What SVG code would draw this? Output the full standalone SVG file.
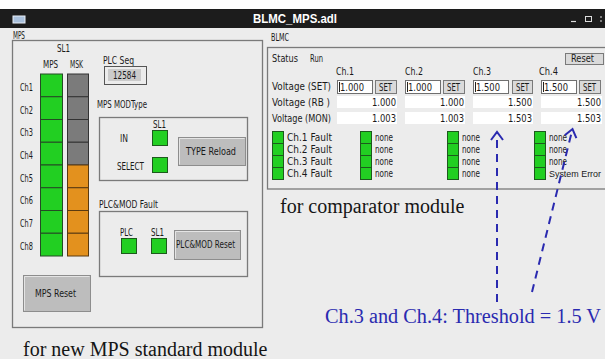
<svg xmlns="http://www.w3.org/2000/svg" width="605" height="359" viewBox="0 0 605 359">
<defs>
<style>
.t{font-family:"DejaVu Sans","Liberation Sans",sans-serif;font-size:10px;fill:#1a1a1a}
.cap{font-family:"Liberation Serif","Times New Roman",serif;font-size:20px;fill:#151515}
.frame{fill:none;stroke:#7a7a7a;stroke-width:1.3}
.led{fill:#22cf22;stroke:#1d5a1d;stroke-width:1}
.mps{fill:#22cf22;stroke:#254a25;stroke-width:1}
.msk{fill:#7b7b7b;stroke:#333;stroke-width:1}
.mso{fill:#e3911e;stroke:#5a3a10;stroke-width:1}
.btn{fill:#bdbdbd;stroke:#8d8d8d;stroke-width:1}
.btnhi{fill:none;stroke:#e4e4e4;stroke-width:1}
.inp{fill:#fff;stroke:#6f6f6f;stroke-width:1}
.fld{fill:#fff}
.sbtn{fill:#dadada;stroke:#7a7a7a;stroke-width:1}
.arr{fill:none;stroke:#2a2ab0;stroke-width:2;stroke-dasharray:8 6}
</style>
<marker id="ah" viewBox="-10 -8 12 16" refX="0" refY="0" markerWidth="12" markerHeight="16" markerUnits="userSpaceOnUse" orient="auto">
<path d="M-8,-6 L0,0 L-8,6" fill="none" stroke="#2a2ab0" stroke-width="2"/>
</marker>
</defs>
<rect x="0" y="0" width="605" height="359" fill="#ececec"/>
<rect x="0" y="0" width="605" height="9" fill="#ffffff"/>
<g id="titlebar">
<rect x="0" y="9" width="605" height="19" fill="#1c1c1c"/>
<rect x="13" y="16" width="12" height="7" fill="#a9c0dc" stroke="#e8eef6" stroke-width="1"/>
<text x="253" y="23" font-family="Liberation Sans, Arial, sans-serif" font-size="12" font-weight="bold" fill="#ffffff" textLength="84" lengthAdjust="spacingAndGlyphs">BLMC_MPS.adl</text>
<line x1="571" y1="21.5" x2="576" y2="21.5" stroke="#ddd" stroke-width="1.2"/>
<rect x="585.5" y="16.5" width="6" height="5" fill="none" stroke="#ddd" stroke-width="1"/>
<line x1="601" y1="16" x2="601" y2="22" stroke="#ddd" stroke-width="1" stroke-dasharray="2 2"/>
</g>
<g id="mps-panel">
<text class="t" x="13" y="38.5" textLength="12" lengthAdjust="spacingAndGlyphs">MPS</text>
<rect class="frame" x="12.5" y="40.5" width="250" height="287"/>
<text class="t" x="57" y="51.5" textLength="13" lengthAdjust="spacingAndGlyphs">SL1</text>
<text class="t" x="43" y="68" textLength="15" lengthAdjust="spacingAndGlyphs">MPS</text>
<text class="t" x="70" y="68" textLength="13" lengthAdjust="spacingAndGlyphs">MSK</text>
</g>
<g id="mps-column">
<rect class="mps" x="40.5" y="74" width="22" height="22.75"/>
<rect class="mps" x="40.5" y="96.75" width="22" height="22.75"/>
<rect class="mps" x="40.5" y="119.5" width="22" height="22.75"/>
<rect class="mps" x="40.5" y="142.25" width="22" height="22.75"/>
<rect class="mps" x="40.5" y="165" width="22" height="22.75"/>
<rect class="mps" x="40.5" y="187.75" width="22" height="22.75"/>
<rect class="mps" x="40.5" y="210.5" width="22" height="22.75"/>
<rect class="mps" x="40.5" y="233.25" width="22" height="22.75"/>
</g>
<g id="msk-column">
<rect class="msk" x="67.5" y="74" width="21" height="22.75"/>
<rect class="msk" x="67.5" y="96.75" width="21" height="22.75"/>
<rect class="msk" x="67.5" y="119.5" width="21" height="22.75"/>
<rect class="msk" x="67.5" y="142.25" width="21" height="22.75"/>
<rect class="mso" x="67.5" y="165" width="21" height="22.75"/>
<rect class="mso" x="67.5" y="187.75" width="21" height="22.75"/>
<rect class="mso" x="67.5" y="210.5" width="21" height="22.75"/>
<rect class="mso" x="67.5" y="233.25" width="21" height="22.75"/>
</g>
<g id="ch-labels">
<text class="t" x="20" y="90.5" textLength="13" lengthAdjust="spacingAndGlyphs">Ch1</text>
<text class="t" x="20" y="113.5" textLength="13" lengthAdjust="spacingAndGlyphs">Ch2</text>
<text class="t" x="20" y="135.5" textLength="13" lengthAdjust="spacingAndGlyphs">Ch3</text>
<text class="t" x="20" y="158.5" textLength="13" lengthAdjust="spacingAndGlyphs">Ch4</text>
<text class="t" x="20" y="181.5" textLength="13" lengthAdjust="spacingAndGlyphs">Ch5</text>
<text class="t" x="20" y="203.5" textLength="13" lengthAdjust="spacingAndGlyphs">Ch6</text>
<text class="t" x="20" y="226.5" textLength="13" lengthAdjust="spacingAndGlyphs">Ch7</text>
<text class="t" x="20" y="249.5" textLength="13" lengthAdjust="spacingAndGlyphs">Ch8</text>
</g>
<g id="plc-seq">
<text class="t" x="103" y="63.5" textLength="31" lengthAdjust="spacingAndGlyphs">PLC Seq</text>
<rect x="104.5" y="66.5" width="42" height="18" fill="#ececec" stroke="#555" stroke-width="1"/>
<rect x="108" y="69" width="33" height="12" fill="#cbcbcb"/>
<text class="t" x="113" y="79" textLength="23" lengthAdjust="spacingAndGlyphs">12584</text>
</g>
<g id="modtype">
<text class="t" x="97" y="107.5" textLength="50" lengthAdjust="spacingAndGlyphs">MPS MODType</text>
<rect class="frame" x="99.5" y="117.5" width="148" height="63"/>
<text class="t" x="153" y="127.5" textLength="13" lengthAdjust="spacingAndGlyphs">SL1</text>
<text class="t" x="120" y="141.5" textLength="8" lengthAdjust="spacingAndGlyphs">IN</text>
<rect class="led" x="152.5" y="130.5" width="15" height="15"/>
<text class="t" x="117" y="169.5" textLength="27" lengthAdjust="spacingAndGlyphs">SELECT</text>
<rect class="led" x="152.5" y="157.5" width="15" height="15"/>
</g>
<g id="type-reload">
<rect class="btn" x="178.5" y="137.5" width="67" height="28"/>
<path class="btnhi" d="M179.5,164.5 V138.5 H244.5"/>
<text class="t" x="186" y="154.5" textLength="50" lengthAdjust="spacingAndGlyphs">TYPE Reload</text>
</g>
<g id="plcmod-fault">
<text class="t" x="99" y="207.5" textLength="59" lengthAdjust="spacingAndGlyphs">PLC&amp;MOD Fault</text>
<rect class="frame" x="99.5" y="211.5" width="148" height="65"/>
<text class="t" x="120" y="235.5" textLength="13" lengthAdjust="spacingAndGlyphs">PLC</text>
<text class="t" x="151" y="235.5" textLength="13" lengthAdjust="spacingAndGlyphs">SL1</text>
<rect class="led" x="121.5" y="238.5" width="15" height="15"/>
<rect class="led" x="151.5" y="238.5" width="15" height="15"/>
</g>
<g id="plcmod-reset">
<rect class="btn" x="174.5" y="230.5" width="66" height="29"/>
<path class="btnhi" d="M175.5,258.5 V231.5 H239.5"/>
<text class="t" x="176" y="247.5" textLength="59" lengthAdjust="spacingAndGlyphs">PLC&amp;MOD Reset</text>
</g>
<g id="mps-reset">
<rect class="btn" x="23.5" y="275.5" width="67" height="36"/>
<path class="btnhi" d="M24.5,310.5 V276.5 H89.5"/>
<text class="t" x="35" y="296.5" textLength="41" lengthAdjust="spacingAndGlyphs">MPS Reset</text>
</g>
<g id="blmc-panel">
<text class="t" x="271" y="40.5" textLength="18" lengthAdjust="spacingAndGlyphs">BLMC</text>
<rect class="frame" x="267.5" y="47.5" width="345" height="141.5"/>
<text class="t" x="272" y="61.5" textLength="26" lengthAdjust="spacingAndGlyphs">Status</text>
<text class="t" x="310" y="61.5" textLength="13" lengthAdjust="spacingAndGlyphs">Run</text>
<rect class="sbtn" x="565.5" y="53.5" width="38" height="11"/>
<text class="t" x="571" y="62" textLength="23" lengthAdjust="spacingAndGlyphs">Reset</text>
<text class="t" x="336" y="74.5" textLength="18" lengthAdjust="spacingAndGlyphs">Ch.1</text>
<text class="t" x="405" y="74.5" textLength="18" lengthAdjust="spacingAndGlyphs">Ch.2</text>
<text class="t" x="473" y="74.5" textLength="18" lengthAdjust="spacingAndGlyphs">Ch.3</text>
<text class="t" x="539" y="74.5" textLength="19" lengthAdjust="spacingAndGlyphs">Ch.4</text>
<text class="t" x="272" y="89.5" textLength="59" lengthAdjust="spacingAndGlyphs">Voltage (SET)</text>
<text class="t" x="272" y="105.5" textLength="58" lengthAdjust="spacingAndGlyphs" xml:space="preserve">Voltage (RB )</text>
<text class="t" x="272" y="121.5" textLength="59" lengthAdjust="spacingAndGlyphs">Voltage (MON)</text>
</g>
<g id="voltage-set">
<rect class="inp" x="337.5" y="80.5" width="35" height="13"/>
<rect class="inp" x="405.5" y="80.5" width="35" height="13"/>
<rect class="inp" x="473.5" y="80.5" width="35" height="13"/>
<rect class="inp" x="541.5" y="80.5" width="35" height="13"/>
<line x1="339.5" y1="82" x2="339.5" y2="92" stroke="#222" stroke-width="1"/>
<line x1="407.5" y1="82" x2="407.5" y2="92" stroke="#222" stroke-width="1"/>
<line x1="475.5" y1="82" x2="475.5" y2="92" stroke="#222" stroke-width="1"/>
<line x1="543.5" y1="82" x2="543.5" y2="92" stroke="#222" stroke-width="1"/>
<text class="t" x="340" y="90.5" textLength="24" lengthAdjust="spacingAndGlyphs">1.000</text>
<text class="t" x="408" y="90.5" textLength="24" lengthAdjust="spacingAndGlyphs">1.000</text>
<text class="t" x="476" y="90.5" textLength="24" lengthAdjust="spacingAndGlyphs">1.500</text>
<text class="t" x="544" y="90.5" textLength="24" lengthAdjust="spacingAndGlyphs">1.500</text>
<rect class="sbtn" x="375.5" y="80.5" width="21" height="13"/>
<rect class="sbtn" x="443.5" y="80.5" width="21" height="13"/>
<rect class="sbtn" x="512.5" y="80.5" width="20" height="13"/>
<rect class="sbtn" x="579.5" y="80.5" width="21" height="13"/>
<text class="t" x="379" y="90.5" textLength="13" lengthAdjust="spacingAndGlyphs">SET</text>
<text class="t" x="447" y="90.5" textLength="13" lengthAdjust="spacingAndGlyphs">SET</text>
<text class="t" x="516" y="90.5" textLength="13" lengthAdjust="spacingAndGlyphs">SET</text>
<text class="t" x="583" y="90.5" textLength="13" lengthAdjust="spacingAndGlyphs">SET</text>
</g>
<g id="voltage-rb">
<rect class="fld" x="337" y="96" width="60" height="12"/>
<rect class="fld" x="405" y="96" width="60" height="12"/>
<rect class="fld" x="473" y="96" width="60" height="12"/>
<rect class="fld" x="541" y="96" width="61" height="12"/>
<text class="t" x="396" y="105.5" text-anchor="end" textLength="24" lengthAdjust="spacingAndGlyphs">1.000</text>
<text class="t" x="464" y="105.5" text-anchor="end" textLength="24" lengthAdjust="spacingAndGlyphs">1.000</text>
<text class="t" x="532" y="105.5" text-anchor="end" textLength="24" lengthAdjust="spacingAndGlyphs">1.500</text>
<text class="t" x="601" y="105.5" text-anchor="end" textLength="24" lengthAdjust="spacingAndGlyphs">1.500</text>
</g>
<g id="voltage-mon">
<rect class="fld" x="337" y="112" width="60" height="12"/>
<rect class="fld" x="405" y="112" width="60" height="12"/>
<rect class="fld" x="473" y="112" width="60" height="12"/>
<rect class="fld" x="541" y="112" width="61" height="12"/>
<text class="t" x="396" y="121.5" text-anchor="end" textLength="24" lengthAdjust="spacingAndGlyphs">1.003</text>
<text class="t" x="464" y="121.5" text-anchor="end" textLength="24" lengthAdjust="spacingAndGlyphs">1.003</text>
<text class="t" x="532" y="121.5" text-anchor="end" textLength="24" lengthAdjust="spacingAndGlyphs">1.503</text>
<text class="t" x="601" y="121.5" text-anchor="end" textLength="24" lengthAdjust="spacingAndGlyphs">1.503</text>
</g>
<g id="fault-ch1">
<rect class="led" x="272.5" y="131.5" width="11" height="12"/>
<rect class="led" x="272.5" y="143.5" width="11" height="12"/>
<rect class="led" x="272.5" y="155.5" width="11" height="12"/>
<rect class="led" x="272.5" y="167.5" width="11" height="12"/>
<text class="t" x="287" y="141" textLength="45" lengthAdjust="spacingAndGlyphs">Ch.1 Fault</text>
<text class="t" x="287" y="153" textLength="45" lengthAdjust="spacingAndGlyphs">Ch.2 Fault</text>
<text class="t" x="287" y="165" textLength="45" lengthAdjust="spacingAndGlyphs">Ch.3 Fault</text>
<text class="t" x="287" y="177" textLength="45" lengthAdjust="spacingAndGlyphs">Ch.4 Fault</text>
</g>
<g id="fault-ch2">
<rect class="led" x="360.5" y="131.5" width="11" height="12"/>
<rect class="led" x="360.5" y="143.5" width="11" height="12"/>
<rect class="led" x="360.5" y="155.5" width="11" height="12"/>
<rect class="led" x="360.5" y="167.5" width="11" height="12"/>
<text class="t" x="375" y="141" textLength="18" lengthAdjust="spacingAndGlyphs">none</text>
<text class="t" x="375" y="153" textLength="18" lengthAdjust="spacingAndGlyphs">none</text>
<text class="t" x="375" y="165" textLength="18" lengthAdjust="spacingAndGlyphs">none</text>
<text class="t" x="375" y="177" textLength="18" lengthAdjust="spacingAndGlyphs">none</text>
</g>
<g id="fault-ch3">
<rect class="led" x="447.5" y="131.5" width="11" height="12"/>
<rect class="led" x="447.5" y="143.5" width="11" height="12"/>
<rect class="led" x="447.5" y="155.5" width="11" height="12"/>
<rect class="led" x="447.5" y="167.5" width="11" height="12"/>
<text class="t" x="462" y="141" textLength="18" lengthAdjust="spacingAndGlyphs">none</text>
<text class="t" x="462" y="153" textLength="18" lengthAdjust="spacingAndGlyphs">none</text>
<text class="t" x="462" y="165" textLength="18" lengthAdjust="spacingAndGlyphs">none</text>
<text class="t" x="462" y="177" textLength="18" lengthAdjust="spacingAndGlyphs">none</text>
</g>
<g id="fault-ch4">
<rect class="led" x="534.5" y="131.5" width="11" height="12"/>
<rect class="led" x="534.5" y="143.5" width="11" height="12"/>
<rect class="led" x="534.5" y="155.5" width="11" height="12"/>
<rect class="led" x="534.5" y="167.5" width="11" height="12"/>
<text class="t" x="549" y="141" textLength="18" lengthAdjust="spacingAndGlyphs">none</text>
<text class="t" x="549" y="153" textLength="18" lengthAdjust="spacingAndGlyphs">none</text>
<text class="t" x="549" y="165" textLength="18" lengthAdjust="spacingAndGlyphs">none</text>
<text x="549" y="177" font-family="Liberation Sans, Arial, sans-serif" font-size="9.5" fill="#1a1a1a" textLength="52" lengthAdjust="spacingAndGlyphs">System Error</text>
</g>
<g id="captions">
<text class="cap" x="280" y="213">for comparator module</text>
<text class="cap" x="23" y="356">for new MPS standard module</text>
<text x="325" y="323" font-family="Liberation Serif, Times New Roman, serif" font-size="20.5" fill="#2a2ab0" textLength="276" lengthAdjust="spacingAndGlyphs">Ch.3 and Ch.4: Threshold = 1.5 V</text>
</g>
<g id="connectors">
<line class="arr" x1="497" y1="302" x2="497" y2="132" marker-end="url(#ah)"/>
<line class="arr" x1="532" y1="292" x2="572.5" y2="129" marker-end="url(#ah)"/>
</g>
</svg>
